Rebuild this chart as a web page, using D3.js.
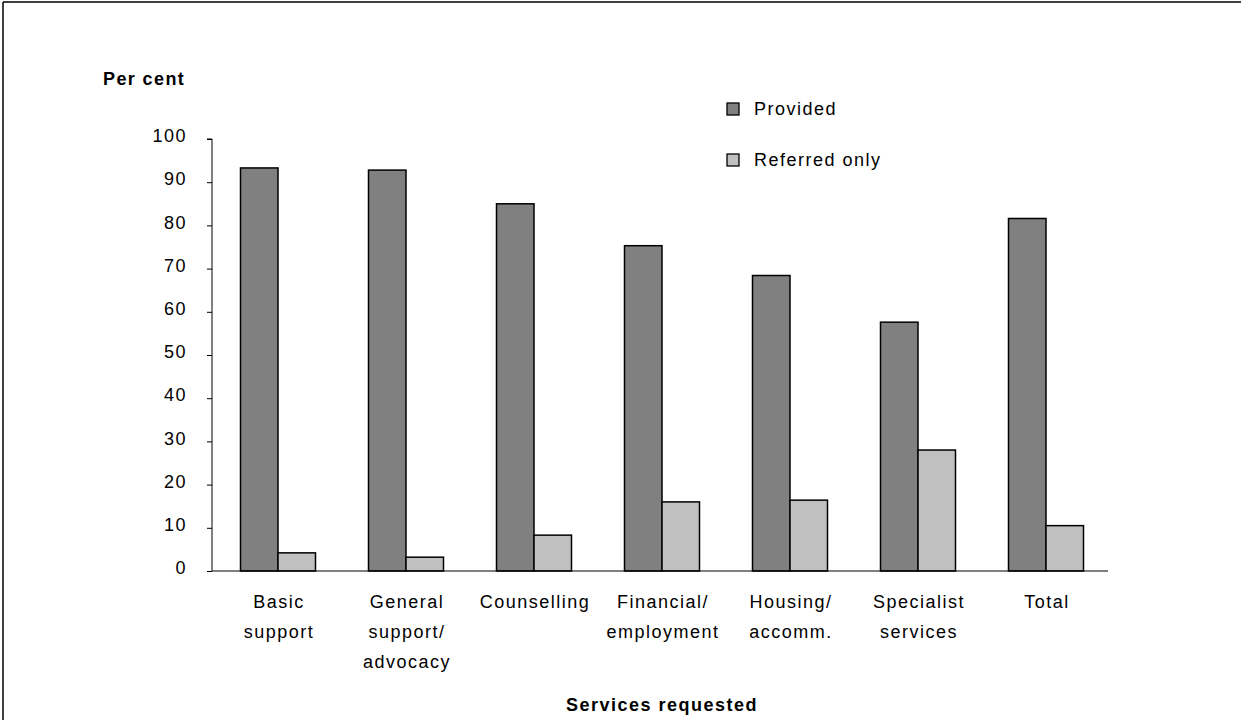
<!DOCTYPE html>
<html>
<head>
<meta charset="utf-8">
<script src="https://cdn.jsdelivr.net/npm/d3@7"></script>
<style>
body{margin:0;background:#fff;}
svg{display:block;font-family:"Liberation Sans",Arial,sans-serif;}
</style>
</head>
<body>
<svg id="chart" width="1241" height="720"></svg>
<script>
const categories = [
  ["Basic","support"],
  ["General","support/","advocacy"],
  ["Counselling"],
  ["Financial/","employment"],
  ["Housing/","accomm."],
  ["Specialist","services"],
  ["Total"]
];
const provided = [93.3, 92.8, 85.0, 75.3, 68.4, 57.6, 81.6];
const referredOnly = [4.2, 3.2, 8.3, 16.0, 16.4, 28.0, 10.5];
const seriesNames = ["Provided", "Referred only"];
const yTicks = [0,10,20,30,40,50,60,70,80,90,100];

(function(){
const colors = ["#808080", "#c0c0c0"];
const FS = 18, LS = 1.5;
const svg = d3.select("#chart");

// frame
svg.append("line").attr("x1",3).attr("y1",2).attr("x2",1241).attr("y2",2).attr("stroke","#000").attr("stroke-width",1.5);
svg.append("line").attr("x1",3).attr("y1",2).attr("x2",3).attr("y2",720).attr("stroke","#000").attr("stroke-width",1.5);

const mLeft = 212, mRight = 1108, mTop = 139, mBottom = 571;
const x = d3.scaleBand().domain(d3.range(categories.length)).range([mLeft, mRight]).paddingInner(0).paddingOuter(0);
const y = d3.scaleLinear().domain([0,100]).range([mBottom, mTop]);
const barW = 37.5;
const shift = 2;

// y axis
const yAxis = d3.axisLeft(y).tickValues(yTicks).tickSize(5).tickPadding(20).tickFormat(d3.format("d"));
const gy = svg.append("g").attr("transform",`translate(${mLeft},0)`).call(yAxis);
gy.select(".domain").attr("d",`M-5,${mTop}H0V${mBottom}`).attr("stroke","#000");
gy.selectAll(".tick line").attr("stroke","#000");
gy.selectAll(".tick text").attr("font-size",FS).attr("letter-spacing",LS).attr("y",-3).attr("dy","0.32em").attr("fill","#000").attr("font-family","Liberation Sans, Arial, sans-serif");

// bars
const groups = svg.append("g").selectAll("g").data(categories).join("g")
  .attr("transform",(d,i)=>`translate(${x(i)+x.bandwidth()/2+shift},0)`);
groups.append("rect")
  .attr("x",-barW).attr("width",barW)
  .attr("y",(d,i)=>y(provided[i])).attr("height",(d,i)=>mBottom-y(provided[i]))
  .attr("fill",colors[0]).attr("stroke","#000").attr("stroke-width",1.5);
groups.append("rect")
  .attr("x",0).attr("width",barW)
  .attr("y",(d,i)=>y(referredOnly[i])).attr("height",(d,i)=>mBottom-y(referredOnly[i]))
  .attr("fill",colors[1]).attr("stroke","#000").attr("stroke-width",1.5);

// x axis line
svg.append("line").attr("x1",mLeft).attr("x2",mRight).attr("y1",mBottom).attr("y2",mBottom).attr("stroke","#000").attr("stroke-width",1.2);

// category labels
groups.each(function(lines){
  const t = d3.select(this).append("text").attr("text-anchor","middle").attr("font-size",FS).attr("letter-spacing",LS).attr("fill","#000");
  lines.forEach((ln,k)=>{
    t.append("tspan").attr("x",1).attr("y",608+k*30).text(ln);
  });
});

// axis titles
svg.append("text").attr("x",103).attr("y",85).attr("font-size",FS).attr("letter-spacing",1.4).attr("font-weight","bold").text("Per cent");
svg.append("text").attr("x",662).attr("y",711).attr("text-anchor","middle").attr("font-size",FS).attr("letter-spacing",1.5).attr("font-weight","bold").text("Services requested");

// legend
const lg = svg.append("g").selectAll("g").data(seriesNames).join("g")
  .attr("transform",(d,i)=>`translate(727,${103+i*51})`);
lg.append("rect").attr("width",12).attr("height",12).attr("fill",(d,i)=>colors[i]).attr("stroke","#000").attr("stroke-width",1.3);
lg.append("text").attr("x",27).attr("y",12).attr("font-size",FS).attr("letter-spacing",LS).attr("fill","#000").text(d=>d);
})();
</script>
</body>
</html>
